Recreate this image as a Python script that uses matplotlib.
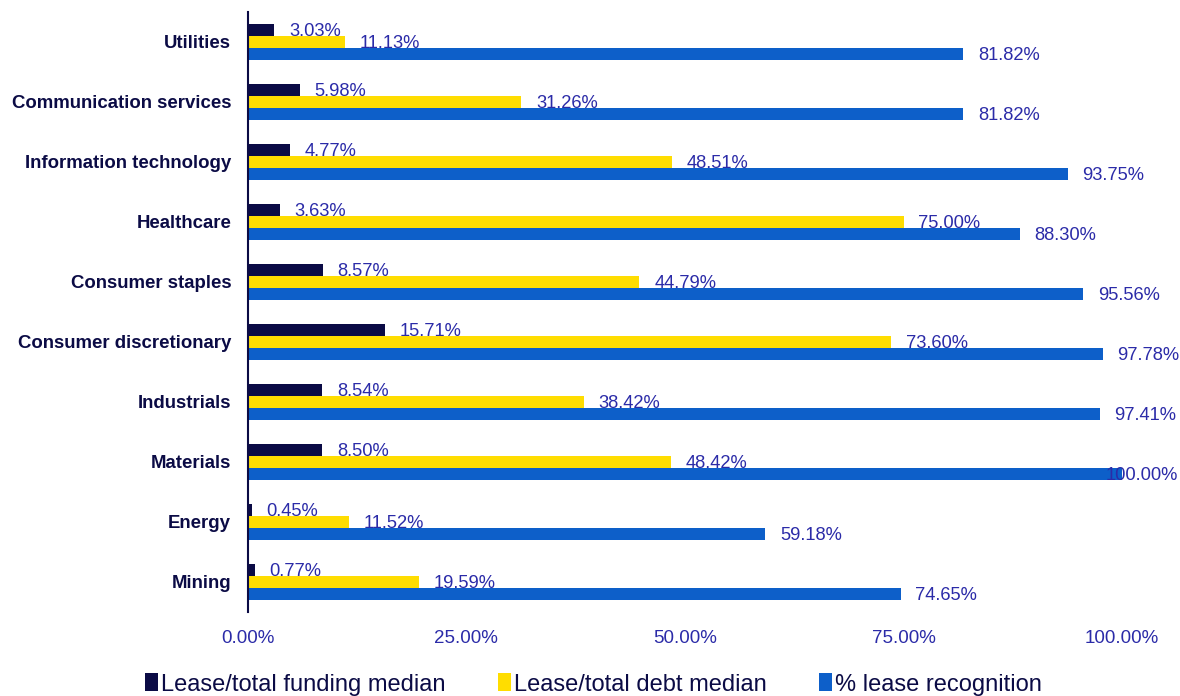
import numpy as np
import matplotlib.pyplot as plt

plt.rcParams['font.family'] = ['Liberation Sans', 'DejaVu Sans']

categories = ['Utilities', 'Communication services', 'Information technology', 'Healthcare',
              'Consumer staples', 'Consumer discretionary', 'Industrials', 'Materials',
              'Energy', 'Mining']
funding = [3.03, 5.98, 4.77, 3.63, 8.57, 15.71, 8.54, 8.50, 0.45, 0.77]
debt = [11.13, 31.26, 48.51, 75.00, 44.79, 73.60, 38.42, 48.42, 11.52, 19.59]
recognition = [81.82, 81.82, 93.75, 88.30, 95.56, 97.78, 97.41, 100.00, 59.18, 74.65]
series_names = ['Lease/total funding median', 'Lease/total debt median', '% lease recognition']

colors = ['#0b0b45', '#ffdd00', '#0d5fc9']
label_color = '#2b2ba8'
navy = '#0b0b45'

fig = plt.figure(figsize=(11.8, 6.96), dpi=100)
ax = fig.add_axes([0.210, 0.121, 0.741, 0.862])

y = np.arange(len(categories))
h = 0.2
for i, (vals, col, name) in enumerate(zip([funding, debt, recognition], colors, series_names)):
    pos = y + (i - 1) * h
    ax.barh(pos, vals, height=h, color=col, label=name)
    for p, v in zip(pos, vals):
        if v >= 100:
            # no room past the end: label sits over the bar tip, pinned to the edge
            ax.annotate(f'{v:.2f}%', (v, p), xytext=(40, -1.5), textcoords='offset points',
                        va='center', ha='right', fontsize=13.2, color=label_color)
        else:
            ax.annotate(f'{v:.2f}%', (v, p), xytext=(10.6, -1.5), textcoords='offset points',
                        va='center', ha='left', fontsize=13.2, color=label_color)

ax.set_ylim(len(categories) - 0.5, -0.5)
ax.set_xlim(0, 100)
ax.set_yticks(y)
ax.set_yticklabels(categories, fontsize=13.4, fontweight='bold', color=navy)
ax.set_xticks([0, 25, 50, 75, 100])
ax.set_xticklabels([f'{t:.2f}%' for t in [0, 25, 50, 75, 100]], fontsize=13.5, color=label_color)
ax.tick_params(axis='both', length=0)
ax.tick_params(axis='x', pad=13)
ax.tick_params(axis='y', pad=12)
for s in ['top', 'right', 'bottom']:
    ax.spines[s].set_visible(False)
ax.spines['left'].set_color(navy)
ax.spines['left'].set_linewidth(1.5)

leg = fig.legend(loc='lower center', bbox_to_anchor=(0.503, -0.03), ncol=3, frameon=False,
                 fontsize=17, handlelength=0.55, handleheight=0.8, handletextpad=0.15,
                 columnspacing=2.2)
for t in leg.get_texts():
    t.set_color(navy)

fig.savefig('out.png', dpi=100)
